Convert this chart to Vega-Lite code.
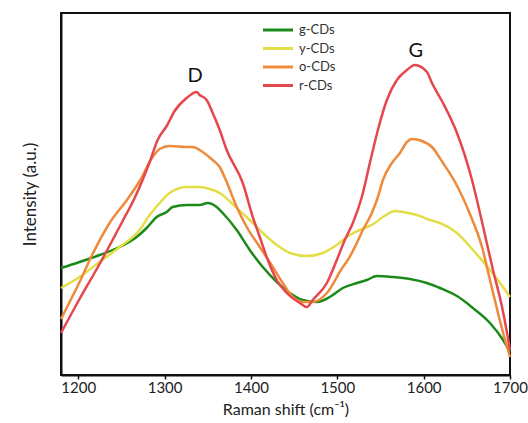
{
  "$schema": "https://vega.github.io/schema/vega-lite/v6.json",
  "width": 449,
  "height": 362,
  "autosize": {"type": "none"},
  "padding": {"left": 61, "top": 13, "right": 18, "bottom": 48},
  "background": "white",
  "config": {
    "font": "Lato",
    "view": {"stroke": "#111", "strokeWidth": 2},
    "axis": {"grid": false, "domainColor": "#111", "domainWidth": 2, "labelColor": "#222", "titleColor": "#222", "labelFont": "Lato", "titleFont": "Lato", "titleFontWeight": "normal"}
  },
  "datasets": {
    "spectra": [
      {"x": 1180, "y": 107, "s": "g-CDs"}, {"x": 1201.5, "y": 113, "s": "g-CDs"}, {"x": 1224.7, "y": 120, "s": "g-CDs"}, {"x": 1247.9, "y": 128, "s": "g-CDs"}, {"x": 1267.6, "y": 138, "s": "g-CDs"}, {"x": 1279.2, "y": 147, "s": "g-CDs"}, {"x": 1290.8, "y": 158, "s": "g-CDs"}, {"x": 1302.4, "y": 163, "s": "g-CDs"}, {"x": 1309.3, "y": 168, "s": "g-CDs"}, {"x": 1325.5, "y": 170, "s": "g-CDs"}, {"x": 1340.6, "y": 170, "s": "g-CDs"}, {"x": 1349.9, "y": 172, "s": "g-CDs"}, {"x": 1360.3, "y": 168, "s": "g-CDs"}, {"x": 1367.3, "y": 162, "s": "g-CDs"}, {"x": 1383.5, "y": 145, "s": "g-CDs"}, {"x": 1398.6, "y": 125, "s": "g-CDs"}, {"x": 1413.7, "y": 108, "s": "g-CDs"}, {"x": 1429.9, "y": 93, "s": "g-CDs"}, {"x": 1445.0, "y": 82, "s": "g-CDs"}, {"x": 1460.0, "y": 75, "s": "g-CDs"}, {"x": 1476.3, "y": 73, "s": "g-CDs"}, {"x": 1491.3, "y": 78, "s": "g-CDs"}, {"x": 1506.4, "y": 87, "s": "g-CDs"}, {"x": 1522.6, "y": 92, "s": "g-CDs"}, {"x": 1534.2, "y": 95, "s": "g-CDs"}, {"x": 1545.8, "y": 99, "s": "g-CDs"}, {"x": 1564.4, "y": 98, "s": "g-CDs"}, {"x": 1584.1, "y": 96, "s": "g-CDs"}, {"x": 1603.8, "y": 92, "s": "g-CDs"}, {"x": 1618.9, "y": 87, "s": "g-CDs"}, {"x": 1638.6, "y": 79, "s": "g-CDs"}, {"x": 1657.1, "y": 67, "s": "g-CDs"}, {"x": 1676.8, "y": 52, "s": "g-CDs"}, {"x": 1692.0, "y": 35, "s": "g-CDs"}, {"x": 1700, "y": 23, "s": "g-CDs"},

      {"x": 1180, "y": 87, "s": "y-CDs"}, {"x": 1201.5, "y": 98, "s": "y-CDs"}, {"x": 1224.7, "y": 113, "s": "y-CDs"}, {"x": 1247.9, "y": 128, "s": "y-CDs"}, {"x": 1271.1, "y": 145, "s": "y-CDs"}, {"x": 1282.7, "y": 160, "s": "y-CDs"}, {"x": 1294.3, "y": 172, "s": "y-CDs"}, {"x": 1305.8, "y": 182, "s": "y-CDs"}, {"x": 1325.5, "y": 188, "s": "y-CDs"}, {"x": 1340.6, "y": 188, "s": "y-CDs"}, {"x": 1355.7, "y": 185, "s": "y-CDs"}, {"x": 1363.8, "y": 182, "s": "y-CDs"}, {"x": 1383.5, "y": 167, "s": "y-CDs"}, {"x": 1398.6, "y": 155, "s": "y-CDs"}, {"x": 1413.7, "y": 142, "s": "y-CDs"}, {"x": 1429.9, "y": 130, "s": "y-CDs"}, {"x": 1445.0, "y": 122, "s": "y-CDs"}, {"x": 1464.7, "y": 119, "s": "y-CDs"}, {"x": 1483.2, "y": 122, "s": "y-CDs"}, {"x": 1499.4, "y": 130, "s": "y-CDs"}, {"x": 1514.5, "y": 140, "s": "y-CDs"}, {"x": 1526.1, "y": 145, "s": "y-CDs"}, {"x": 1534.2, "y": 148, "s": "y-CDs"}, {"x": 1540.0, "y": 150, "s": "y-CDs"}, {"x": 1552.8, "y": 158, "s": "y-CDs"}, {"x": 1566.7, "y": 164, "s": "y-CDs"}, {"x": 1576.0, "y": 163, "s": "y-CDs"}, {"x": 1592.2, "y": 160, "s": "y-CDs"}, {"x": 1607.3, "y": 155, "s": "y-CDs"}, {"x": 1618.9, "y": 152, "s": "y-CDs"}, {"x": 1638.6, "y": 142, "s": "y-CDs"}, {"x": 1657.1, "y": 125, "s": "y-CDs"}, {"x": 1676.8, "y": 105, "s": "y-CDs"}, {"x": 1688.5, "y": 92, "s": "y-CDs"}, {"x": 1700, "y": 78, "s": "y-CDs"},

      {"x": 1180, "y": 56, "s": "o-CDs"}, {"x": 1201.5, "y": 93, "s": "o-CDs"}, {"x": 1216.6, "y": 121, "s": "o-CDs"}, {"x": 1236.3, "y": 152, "s": "o-CDs"}, {"x": 1257.2, "y": 176, "s": "o-CDs"}, {"x": 1271.1, "y": 194, "s": "o-CDs"}, {"x": 1286.1, "y": 218, "s": "o-CDs"}, {"x": 1294.3, "y": 226, "s": "o-CDs"}, {"x": 1305.8, "y": 229, "s": "o-CDs"}, {"x": 1325.5, "y": 228, "s": "o-CDs"}, {"x": 1332.5, "y": 228, "s": "o-CDs"}, {"x": 1344.1, "y": 223, "s": "o-CDs"}, {"x": 1355.7, "y": 215, "s": "o-CDs"}, {"x": 1363.8, "y": 208, "s": "o-CDs"}, {"x": 1371.9, "y": 193, "s": "o-CDs"}, {"x": 1383.5, "y": 168, "s": "o-CDs"}, {"x": 1395.1, "y": 148, "s": "o-CDs"}, {"x": 1410.2, "y": 128, "s": "o-CDs"}, {"x": 1425.3, "y": 108, "s": "o-CDs"}, {"x": 1436.9, "y": 92, "s": "o-CDs"}, {"x": 1448.5, "y": 78, "s": "o-CDs"}, {"x": 1460.0, "y": 73, "s": "o-CDs"}, {"x": 1471.6, "y": 73, "s": "o-CDs"}, {"x": 1487.9, "y": 82, "s": "o-CDs"}, {"x": 1506.4, "y": 108, "s": "o-CDs"}, {"x": 1512.2, "y": 115, "s": "o-CDs"}, {"x": 1522.6, "y": 132, "s": "o-CDs"}, {"x": 1529.6, "y": 145, "s": "o-CDs"}, {"x": 1540.0, "y": 162, "s": "o-CDs"}, {"x": 1547.0, "y": 178, "s": "o-CDs"}, {"x": 1552.8, "y": 195, "s": "o-CDs"}, {"x": 1563.2, "y": 212, "s": "o-CDs"}, {"x": 1572.5, "y": 222, "s": "o-CDs"}, {"x": 1580.6, "y": 233, "s": "o-CDs"}, {"x": 1586.4, "y": 236, "s": "o-CDs"}, {"x": 1598.0, "y": 234, "s": "o-CDs"}, {"x": 1609.6, "y": 228, "s": "o-CDs"}, {"x": 1622.4, "y": 212, "s": "o-CDs"}, {"x": 1636.3, "y": 193, "s": "o-CDs"}, {"x": 1653.6, "y": 161, "s": "o-CDs"}, {"x": 1667.6, "y": 128, "s": "o-CDs"}, {"x": 1676.8, "y": 95, "s": "o-CDs"}, {"x": 1686.1, "y": 62, "s": "o-CDs"}, {"x": 1694.3, "y": 35, "s": "o-CDs"}, {"x": 1700, "y": 18, "s": "o-CDs"},

      {"x": 1180, "y": 42, "s": "r-CDs"}, {"x": 1201.5, "y": 76, "s": "r-CDs"}, {"x": 1224.7, "y": 111, "s": "r-CDs"}, {"x": 1251.4, "y": 154, "s": "r-CDs"}, {"x": 1265.3, "y": 177, "s": "r-CDs"}, {"x": 1282.7, "y": 213, "s": "r-CDs"}, {"x": 1291.9, "y": 235, "s": "r-CDs"}, {"x": 1302.4, "y": 249, "s": "r-CDs"}, {"x": 1311.6, "y": 264, "s": "r-CDs"}, {"x": 1325.5, "y": 277, "s": "r-CDs"}, {"x": 1337.1, "y": 283, "s": "r-CDs"}, {"x": 1340.6, "y": 280, "s": "r-CDs"}, {"x": 1348.7, "y": 275, "s": "r-CDs"}, {"x": 1355.7, "y": 262, "s": "r-CDs"}, {"x": 1363.8, "y": 245, "s": "r-CDs"}, {"x": 1371.9, "y": 225, "s": "r-CDs"}, {"x": 1390.5, "y": 192, "s": "r-CDs"}, {"x": 1402.1, "y": 158, "s": "r-CDs"}, {"x": 1410.2, "y": 138, "s": "r-CDs"}, {"x": 1419.5, "y": 115, "s": "r-CDs"}, {"x": 1429.9, "y": 95, "s": "r-CDs"}, {"x": 1441.5, "y": 82, "s": "r-CDs"}, {"x": 1456.6, "y": 72, "s": "r-CDs"}, {"x": 1464.7, "y": 68, "s": "r-CDs"}, {"x": 1471.6, "y": 75, "s": "r-CDs"}, {"x": 1487.9, "y": 92, "s": "r-CDs"}, {"x": 1499.4, "y": 115, "s": "r-CDs"}, {"x": 1508.7, "y": 135, "s": "r-CDs"}, {"x": 1518.0, "y": 152, "s": "r-CDs"}, {"x": 1528.4, "y": 178, "s": "r-CDs"}, {"x": 1537.7, "y": 212, "s": "r-CDs"}, {"x": 1547.0, "y": 245, "s": "r-CDs"}, {"x": 1557.4, "y": 275, "s": "r-CDs"}, {"x": 1569.0, "y": 295, "s": "r-CDs"}, {"x": 1580.6, "y": 305, "s": "r-CDs"}, {"x": 1589.9, "y": 310, "s": "r-CDs"}, {"x": 1603.8, "y": 303, "s": "r-CDs"}, {"x": 1609.6, "y": 292, "s": "r-CDs"}, {"x": 1622.4, "y": 272, "s": "r-CDs"}, {"x": 1638.6, "y": 242, "s": "r-CDs"}, {"x": 1656.0, "y": 195, "s": "r-CDs"}, {"x": 1667.6, "y": 153, "s": "r-CDs"}, {"x": 1680.3, "y": 105, "s": "r-CDs"}, {"x": 1690.8, "y": 68, "s": "r-CDs"}, {"x": 1696.6, "y": 42, "s": "r-CDs"}, {"x": 1700, "y": 25, "s": "r-CDs"}
    ],
    "peaks": [
      {"x": 1335.4, "y": 299.5, "label": "D"},
      {"x": 1591, "y": 324, "label": "G"}
    ]
  },
  "layer": [
    {
      "data": {"name": "spectra"},
      "mark": {"type": "line", "strokeWidth": 2.5, "interpolate": "monotone"},
      "encoding": {
        "x": {"field": "x", "type": "quantitative", "scale": {"domain": [1180, 1700], "nice": false, "zero": false},
              "axis": {"title": "Raman shift (cm⁻¹)", "values": [1200, 1300, 1400, 1500, 1600, 1700], "format": "d", "labelFontSize": 15, "titleFontSize": 16, "tickSize": 4, "tickColor": "#111", "tickWidth": 1.5, "labelPadding": 1, "titlePadding": 6, "labelFlush": false}},
        "y": {"field": "y", "type": "quantitative", "scale": {"domain": [0, 362], "nice": false},
              "axis": {"title": "Intensity (a.u.)", "labels": false, "ticks": false, "titleFontSize": 17, "titlePadding": 22}},
        "color": {"field": "s", "type": "nominal",
                  "scale": {"domain": ["g-CDs", "y-CDs", "o-CDs", "r-CDs"], "range": ["#1b8a1b", "#e3de45", "#ef8a3a", "#e6474d"]},
                  "legend": {"title": null, "orient": "none", "legendX": 208, "legendY": 8, "symbolType": "M-2,0H2", "symbolSize": 225, "symbolStrokeWidth": 3, "labelFontSize": 13, "labelColor": "#333", "labelOffset": 12, "rowPadding": 2.5, "padding": 0}}
      }
    },
    {
      "data": {"name": "peaks"},
      "mark": {"type": "text", "fontSize": 20, "font": "Lato", "color": "#111", "baseline": "middle", "align": "center"},
      "encoding": {
        "x": {"field": "x", "type": "quantitative"},
        "y": {"field": "y", "type": "quantitative"},
        "text": {"field": "label"}
      }
    }
  ]
}
